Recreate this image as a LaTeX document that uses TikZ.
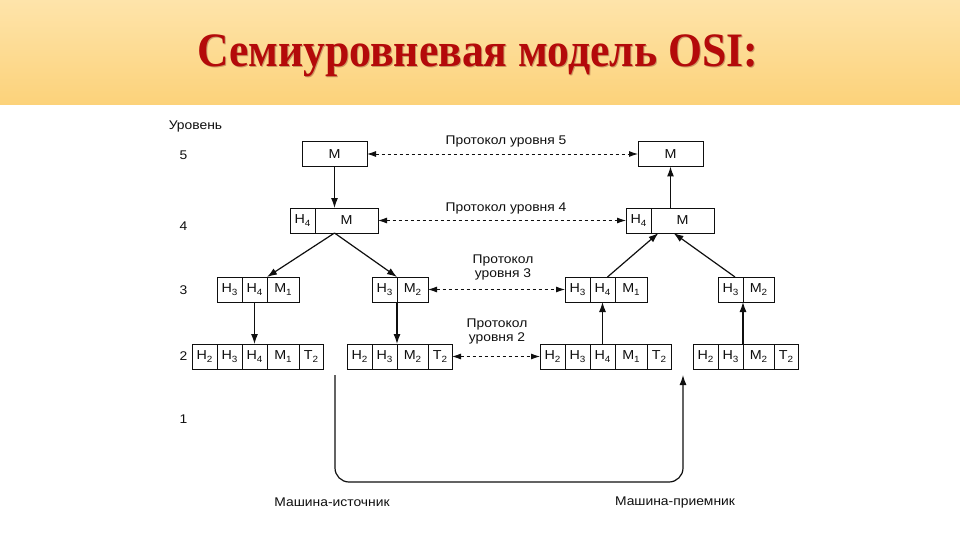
\documentclass[tikz,border=0pt]{standalone}
\usepackage{fontspec}
\setmainfont{Liberation Sans}
\newfontfamily\diagfont[FakeStretch=1.1]{Liberation Sans}
\newfontfamily\headfont[FakeStretch=0.91]{Liberation Serif}
\usetikzlibrary{arrows.meta,positioning,calc}
\definecolor{bandtop}{RGB}{254,228,170}
\definecolor{bandbot}{RGB}{252,210,122}
\definecolor{headred}{RGB}{180,10,10}
\definecolor{ink}{RGB}{15,15,15}
\newcommand\idx[1]{\raisebox{-0.35ex}{\fontsize{9}{9}\selectfont#1}}

\begin{document}
\begin{tikzpicture}[x=1pt,y=-1pt,
  cell/.style={rectangle, draw=ink, line width=1pt, minimum height=25pt, inner sep=0pt,
               outer sep=0pt, text=ink, font=\diagfont\fontsize{13}{13}\selectfont},
  hc/.style={cell, minimum width=25pt},
  mone/.style={cell, minimum width=32pt},
  mtwo/.style={cell, minimum width=31pt},
  tc/.style={cell, minimum width=24pt},
  lbl/.style={text=ink, inner sep=0pt, align=center, font=\diagfont\fontsize{12.6}{14}\selectfont},
  arr/.style={-{Latex[length=10pt,width=7pt]}, line width=1.2pt, ink},
  proto/.style={{Latex[length=9pt,width=6pt]}-{Latex[length=9pt,width=6pt]}, line width=0.9pt,
                dash pattern=on 3.5pt off 2.5pt, ink}
]
\useasboundingbox (0,0) rectangle (960,540);
\fill[top color=bandtop, bottom color=bandbot] (0,0) rectangle (960,105);
\node[anchor=base, text=headred!50!black, opacity=0.3, font=\headfont\bfseries\fontsize{48}{48}\selectfont]
  (titleshade) at (478.5,68) {Семиуровневая модель OSI:};
\node[anchor=base, text=headred, font=\headfont\bfseries\fontsize{48}{48}\selectfont]
  (title) at (477.5,67) {Семиуровневая модель OSI:};

\node[lbl](lvl) at (195.5,126) {Уровень};
\foreach \n/\y in {5/155,4/226,3/290,2/356,1/419}
  \node[lbl](lv\n) at (183.5,\y) {\n};

\node[cell, minimum width=65pt](l5m) at (334.5,154) {M};
\node[cell, minimum width=65pt](r5m) at (670.5,154) {M};

\node[hc, anchor=west](l4h) at (290,220.5) {H\idx4};
\node[cell, minimum width=63pt, right=0pt of l4h](l4m) {M};
\node[hc, anchor=west](r4h) at (626,220.5) {H\idx4};
\node[cell, minimum width=63pt, right=0pt of r4h](r4m) {M};

\node[hc, anchor=west](a2h2) at (192,356.5) {H\idx2};
\node[hc, right=0pt of a2h2](a2h3) {H\idx3};
\node[hc, right=0pt of a2h3](a2h4) {H\idx4};
\node[mone, right=0pt of a2h4](a2m1) {M\idx1};
\node[tc, right=0pt of a2m1](a2t2) {T\idx2};

\node[hc, anchor=west](b2h2) at (347,356.5) {H\idx2};
\node[hc, right=0pt of b2h2](b2h3) {H\idx3};
\node[mtwo, right=0pt of b2h3](b2m2) {M\idx2};
\node[tc, right=0pt of b2m2](b2t2) {T\idx2};

\node[hc, anchor=west](c2h2) at (540,356.5) {H\idx2};
\node[hc, right=0pt of c2h2](c2h3) {H\idx3};
\node[hc, right=0pt of c2h3](c2h4) {H\idx4};
\node[mone, right=0pt of c2h4](c2m1) {M\idx1};
\node[tc, right=0pt of c2m1](c2t2) {T\idx2};

\node[hc, anchor=west](d2h2) at (693,356.5) {H\idx2};
\node[hc, right=0pt of d2h2](d2h3) {H\idx3};
\node[mtwo, right=0pt of d2h3](d2m2) {M\idx2};
\node[tc, right=0pt of d2m2](d2t2) {T\idx2};

\node[hc, above=42pt of a2h3](a3h3) {H\idx3};
\node[hc, right=0pt of a3h3](a3h4) {H\idx4};
\node[mone, right=0pt of a3h4](a3m1) {M\idx1};

\node[hc, above=42pt of b2h3](b3h3) {H\idx3};
\node[mtwo, right=0pt of b3h3](b3m2) {M\idx2};

\node[hc, above=42pt of c2h3](c3h3) {H\idx3};
\node[hc, right=0pt of c3h3](c3h4) {H\idx4};
\node[mone, right=0pt of c3h4](c3m1) {M\idx1};

\node[hc, above=42pt of d2h3](d3h3) {H\idx3};
\node[mtwo, right=0pt of d3h3](d3m2) {M\idx2};

\draw[proto](l5m.east)--(r5m.west);
\draw[proto](l4m.east)--(r4h.west);
\draw[proto](b3m2.east)--(c3h3.west);
\draw[proto](b2t2.east)--(c2h2.west);
\node[lbl](p5) at (506,141) {Протокол уровня 5};
\node[lbl](p4) at (506,208) {Протокол уровня 4};
\node[lbl](p3) at (503,267) {Протокол\\уровня 3};
\node[lbl](p2) at (497,331) {Протокол\\уровня 2};

\draw[arr](l5m.south)--(l5m.south |- l4m.north);
\draw[arr](l5m.south |- l4m.south)--(a3h4.north east);
\draw[arr](l5m.south |- l4m.south)--(b3h3.north east);
\draw[arr](a3h4.south)--(a2h4.north);
\draw[arr](b3h3.south east)--(b2h3.north east);

\draw[arr](c2h4.north)--(c3h4.south);
\draw[arr](d2h3.north east)--(d3h3.south east);
\draw[arr]($(c3h4.north)+(5,0)$)--($(r5m.south |- r4m.south)+(-12,0)$);
\draw[arr]($(d3h3.north east)+(-8,0)$)--($(r5m.south |- r4m.south)+(3,0)$);
\draw[arr](r5m.south |- r4m.north)--(r5m.south);

\coordinate(srcfoot) at (335,375);
\coordinate(dsthead) at (683,375);
\coordinate(wire) at (509,482);
\draw[arr, rounded corners=14pt](srcfoot) |- (wire) -| (dsthead);
\node[lbl](src) at (332,502) {Машина-источник};
\node[lbl](dst) at (675,502) {Машина-приемник};
\end{tikzpicture}
\end{document}
